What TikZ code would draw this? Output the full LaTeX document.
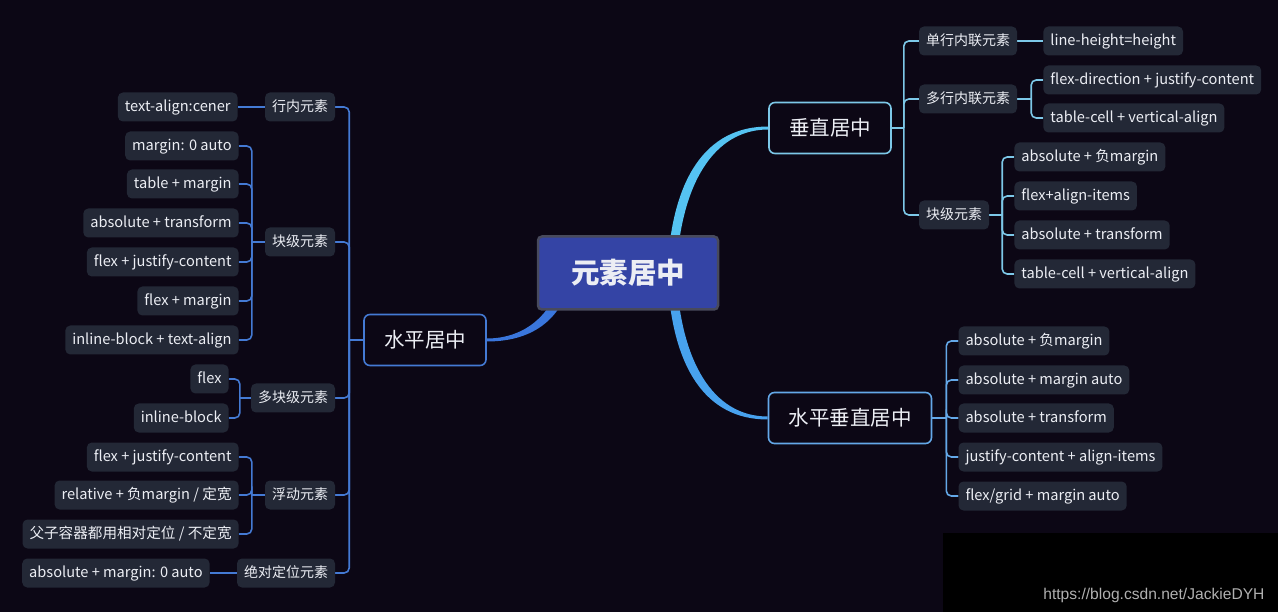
\documentclass[tikz,border=0pt]{standalone}
\usepackage{fontspec}
\setmainfont{Noto Sans CJK SC}
\newfontfamily\urlfont{Liberation Sans}
\usetikzlibrary{positioning,backgrounds,calc}
\definecolor{bgdark}{RGB}{12,7,21}
\definecolor{rootfill}{RGB}{52,68,165}
\definecolor{rootline}{RGB}{72,74,92}
\definecolor{leafgray}{RGB}{35,40,54}
\definecolor{txt}{RGB}{236,238,244}
\definecolor{vline}{RGB}{125,200,232}
\definecolor{vmain}{RGB}{85,195,242}
\definecolor{hvline}{RGB}{100,168,232}
\definecolor{hvmain}{RGB}{72,162,238}
\definecolor{hline}{RGB}{68,122,212}
\definecolor{hmain}{RGB}{58,118,220}
\definecolor{wmgray}{RGB}{176,176,176}

\begin{document}
\begin{tikzpicture}[x=1pt, y=-1pt,
    root/.style={rectangle, rounded corners=4pt, fill=rootfill, draw=rootline, line width=2.5pt, text=txt, font=\bfseries\fontsize{28.5}{32}\selectfont, minimum width=180pt, minimum height=73pt},
    topic/.style={rectangle, rounded corners=6pt, fill=bgdark, line width=1.6pt, text=txt, font=\fontsize{20.5}{24}\selectfont, inner xsep=20pt, minimum height=51pt},
    sub/.style={rectangle, rounded corners=5pt, fill=leafgray, text=txt, font=\fontsize{14}{16}\selectfont, inner xsep=7pt, inner ysep=0pt, text height=11pt, text depth=2pt, minimum height=29pt},
    leaf/.style={sub, font=\fontsize{14.6}{16}\selectfont},
    link/.style={line width=1.6pt, rounded corners=5pt},
]
\useasboundingbox (0,0) rectangle (1278,612);
\begin{pgfonlayer}{background}
\fill[bgdark] (0,0) rectangle (1278,612);
\fill[black] (943,533) rectangle (1278,612);
\end{pgfonlayer}

% Root
\node[root] (root) at (628,273) {元素居中};

% Main branches
\node[topic, draw=vline] (v) at (830,128) {垂直居中};
\node[topic, draw=hvline] (hv) at (850,418) {水平垂直居中};
\node[topic, draw=hline] (h) at (425,340) {水平居中};

% 垂直居中
\node[sub, anchor=west] (v1) at ($(v.east)+(27,-87)$) {单行内联元素};
\node[sub, anchor=west] (v2) at ($(v.east)+(27,-29)$) {多行内联元素};
\node[sub, anchor=west] (v3) at ($(v.east)+(27,87)$) {块级元素};

\node[leaf, anchor=west] (v1a) at ($(v1.east)+(26,0)$) {line-height=height};
\node[leaf, anchor=west] (v2a) at ($(v2.east)+(26,-19)$) {flex-direction + justify-content};
\node[leaf, anchor=west] (v2b) at ($(v2.east)+(26,19)$) {table-cell + vertical-align};
\node[leaf, anchor=west] (v3a) at ($(v3.east)+(25,-58)$) {absolute + 负margin};
\node[leaf, anchor=west] (v3b) at ($(v3.east)+(25,-19)$) {flex+align-items};
\node[leaf, anchor=west] (v3c) at ($(v3.east)+(25,20)$) {absolute + transform};
\node[leaf, anchor=west] (v3d) at ($(v3.east)+(25,59)$) {table-cell + vertical-align};

% 水平垂直居中
\node[leaf, anchor=west] (hva) at ($(hv.east)+(26,-77)$) {absolute + 负margin};
\node[leaf, anchor=west] (hvb) at ($(hv.east)+(26,-38)$) {absolute + margin auto};
\node[leaf, anchor=west] (hvc) at ($(hv.east)+(26,0)$) {absolute + transform};
\node[leaf, anchor=west] (hvd) at ($(hv.east)+(26,39)$) {justify-content + align-items};
\node[leaf, anchor=west] (hve) at ($(hv.east)+(26,78)$) {flex/grid + margin auto};

% 水平居中
\node[sub, anchor=east] (h1) at ($(h.west)+(-28,-233)$) {行内元素};
\node[sub, anchor=east] (h2) at ($(h.west)+(-28,-98)$) {块级元素};
\node[sub, anchor=east] (h3) at ($(h.west)+(-28,58)$) {多块级元素};
\node[sub, anchor=east] (h4) at ($(h.west)+(-28,155)$) {浮动元素};
\node[sub, anchor=east] (h5) at ($(h.west)+(-28,233)$) {绝对定位元素};

\node[leaf, anchor=east] (h1a) at ($(h1.west)+(-27,0)$) {text-align:cener};
\node[leaf, anchor=east] (h2a) at ($(h2.west)+(-26,-96)$) {margin: 0 auto};
\node[leaf, anchor=east] (h2b) at ($(h2.west)+(-26,-58)$) {table + margin};
\node[leaf, anchor=east] (h2c) at ($(h2.west)+(-26,-19)$) {absolute + transform};
\node[leaf, anchor=east] (h2d) at ($(h2.west)+(-26,20)$) {flex + justify-content};
\node[leaf, anchor=east] (h2e) at ($(h2.west)+(-26,59)$) {flex + margin};
\node[leaf, anchor=east] (h2f) at ($(h2.west)+(-26,98)$) {inline-block + text-align};
\node[leaf, anchor=east] (h3a) at ($(h3.west)+(-22,-19)$) {flex};
\node[leaf, anchor=east] (h3b) at ($(h3.west)+(-22,20)$) {inline-block};
\node[leaf, anchor=east] (h4a) at ($(h4.west)+(-26,-38)$) {flex + justify-content};
\node[leaf, anchor=east] (h4b) at ($(h4.west)+(-26,0)$) {relative + 负margin / 定宽};
\node[leaf, anchor=east] (h4c) at ($(h4.west)+(-26,39)$) {父子容器都用相对定位 / 不定宽};
\node[leaf, anchor=east] (h5a) at ($(h5.west)+(-27,0)$) {absolute + margin: 0 auto};

% Watermark
\node[font=\urlfont\fontsize{15.6}{17}\selectfont, text=wmgray, anchor=base east] (wm) at (1268,599) {https://blog.csdn.net/JackieDYH};

\begin{pgfonlayer}{background}
% root to branches
\fill[vmain] ([xshift=-52]root.east) .. controls +(4,-95) and +(-62,0) .. ([yshift=1.5]v.west)
    -- ([yshift=-1.5]v.west) .. controls +(-55,0) and +(4,-88) .. ([xshift=-43]root.east) -- cycle;
\fill[hvmain] ([xshift=-52]root.east) .. controls +(4,95) and +(-62,0) .. ([yshift=-1.5]hv.west)
    -- ([yshift=1.5]hv.west) .. controls +(-55,0) and +(4,88) .. ([xshift=-43]root.east) -- cycle;
\fill[hmain] ([xshift=26]root.west) .. controls +(-10,45) and +(35,0) .. ([yshift=1.5]h.east)
    -- ([yshift=-1.5]h.east) .. controls +(42,0) and +(-10,50) .. ([xshift=36]root.west) -- cycle;

% 垂直居中 links
\coordinate (vs) at ($(v.east)+(12,0)$);
\draw[link, vline] (v.east) -- (vs);
\foreach \c in {v1,v2,v3} \draw[link, vline] (vs) |- (\c.west);
\draw[link, vline] (v1.east) -- (v1a.west);
\coordinate (v2s) at ($(v2.east)+(14,0)$);
\draw[link, vline] (v2.east) -- (v2s);
\foreach \c in {v2a,v2b} \draw[link, vline] (v2s) |- (\c.west);
\coordinate (v3s) at ($(v3.east)+(13,0)$);
\draw[link, vline] (v3.east) -- (v3s);
\foreach \c in {v3a,v3b,v3c,v3d} \draw[link, vline] (v3s) |- (\c.west);

% 水平垂直居中 links
\coordinate (hvs) at ($(hv.east)+(14,0)$);
\draw[link, hvline] (hv.east) -- (hvs);
\foreach \c in {hva,hvb,hvc,hvd,hve} \draw[link, hvline] (hvs) |- (\c.west);

% 水平居中 links
\coordinate (hs) at ($(h.west)+(-14,0)$);
\draw[link, hline] (h.west) -- (hs);
\foreach \c in {h1,h2,h3,h4,h5} \draw[link, hline] (hs) |- (\c.east);
\draw[link, hline] (h1.west) -- (h1a.east);
\coordinate (h2s) at ($(h2.west)+(-13,0)$);
\draw[link, hline] (h2.west) -- (h2s);
\foreach \c in {h2a,h2b,h2c,h2d,h2e,h2f} \draw[link, hline] (h2s) |- (\c.east);
\coordinate (h3s) at ($(h3.west)+(-11,0)$);
\draw[link, hline] (h3.west) -- (h3s);
\foreach \c in {h3a,h3b} \draw[link, hline] (h3s) |- (\c.east);
\coordinate (h4s) at ($(h4.west)+(-13,0)$);
\draw[link, hline] (h4.west) -- (h4s);
\foreach \c in {h4a,h4b,h4c} \draw[link, hline] (h4s) |- (\c.east);
\draw[link, hline] (h5.west) -- (h5a.east);
\end{pgfonlayer}

\end{tikzpicture}
\end{document}
